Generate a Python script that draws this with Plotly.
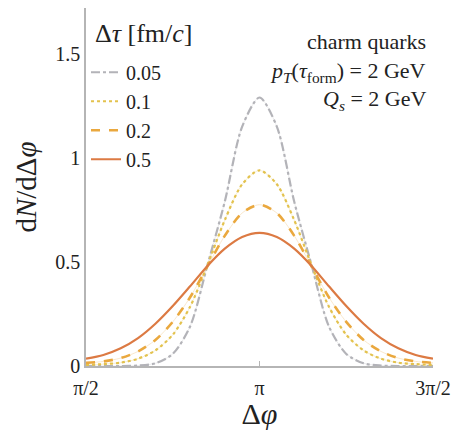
import numpy as np
import plotly.graph_objects as go

PI = np.pi
# Delta phi sample points: pi/2 ... 3pi/2 in steps of pi/20
dphi = [PI / 2 + k * PI / 20 for k in range(21)]

# half-profiles (from the peak at pi outwards), mirrored
half_005 = [1.29, 1.15, 0.79, 0.485, 0.19, 0.058, 0.013, 0.002, 0.0, 0.0, 0.0]
half_01 = [0.94, 0.873, 0.701, 0.485, 0.285, 0.150, 0.075, 0.035, 0.016, 0.009, 0.005]
half_02 = [0.775, 0.735, 0.626, 0.479, 0.330, 0.212, 0.125, 0.070, 0.038, 0.022, 0.015]
half_05 = [0.640, 0.620, 0.564, 0.481, 0.383, 0.288, 0.203, 0.134, 0.085, 0.053, 0.035]


def full(h):
    return h[::-1] + h[1:]


series_names = ["0.05", "0.1", "0.2", "0.5"]
series_vals = [full(half_005), full(half_01), full(half_02), full(half_05)]
colors = ["#b3b3b8", "#e3c24e", "#eaa83e", "#dc7a43"]
dashes = ["dashdot", "dot", "dash", "solid"]
widths = [2.2, 2.2, 2.6, 2.2]

xtick_vals = [PI / 2, PI, 3 * PI / 2]
xtick_text = ["π/2", "π", "3π/2"]
ytick_vals = [0, 0.5, 1, 1.5]
ytick_text = ["0", "0.5", "1", "1.5"]

SERIF = "Liberation Serif, DejaVu Serif, serif"

fig = go.Figure()
for name, vals, c, d, w in zip(series_names, series_vals, colors, dashes, widths):
    if d != "solid":
        fig.add_trace(go.Scatter(x=dphi, y=vals, mode="lines", showlegend=False,
                                 hoverinfo="skip", opacity=0.25,
                                 line=dict(color=c, width=1, shape="spline", smoothing=0.8)))
    fig.add_trace(go.Scatter(x=dphi, y=vals, mode="lines", name=name,
                             line=dict(color=c, width=w, dash=d, shape="spline", smoothing=0.8)))

fig.update_layout(
    width=459, height=430,
    margin=dict(l=86, r=26, t=8, b=62),
    paper_bgcolor="white", plot_bgcolor="white",
    font=dict(family=SERIF, size=20, color="#222"),
    showlegend=True,
    legend=dict(x=0.0, y=0.875, xanchor="left", yanchor="top",
                bgcolor="rgba(0,0,0,0)",
                font=dict(size=20), tracegroupgap=0, itemwidth=30),
    xaxis=dict(range=[PI / 2, 3 * PI / 2], tickvals=xtick_vals, ticktext=xtick_text,
               showgrid=False, zeroline=False, showline=True, linecolor="#b5b5b5", linewidth=1.5,
               ticks="inside", ticklen=5, tickcolor="#b5b5b5", tickfont=dict(size=20),
               ticklabelstandoff=3,
               title=dict(text="Δ<i>φ</i>", font=dict(size=30), standoff=2)),
    yaxis=dict(range=[0, 1.72], tickvals=ytick_vals, ticktext=ytick_text,
               showgrid=False, zeroline=False, showline=True, linecolor="#b5b5b5", linewidth=1.5,
               ticks="", tickfont=dict(size=20),
               title=dict(text="d<i>N</i>/dΔ<i>φ</i>", font=dict(size=29), standoff=10)),
)

# legend heading
fig.add_annotation(x=0.02, y=0.93, xref="paper", yref="paper",
                   text="Δ<i>τ</i> [fm/<i>c</i>]", showarrow=False,
                   xanchor="left", yanchor="middle", font=dict(size=26))

ann = [
    ("charm quarks", 0.906),
    ("<i>p</i><sub><i>T</i></sub>(<i>τ</i><sub>form</sub>) = 2 GeV", 0.822),
    ("<i>Q</i><sub><i>s</i></sub> = 2 GeV", 0.744),
]
for t, yy in ann:
    fig.add_annotation(x=0.985, y=yy, xref="paper", yref="paper", text=t, showarrow=False,
                       xanchor="right", yanchor="middle", font=dict(size=22))

fig.write_html("out.html")
